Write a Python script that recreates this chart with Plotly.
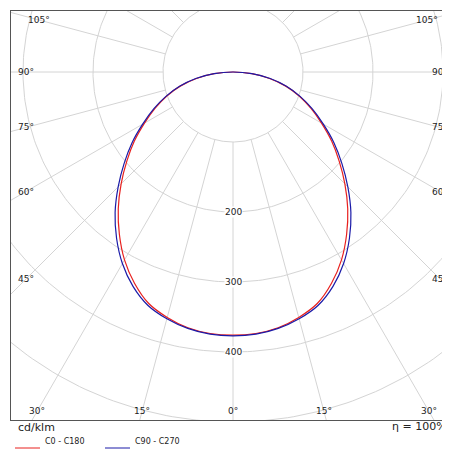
import numpy as np
import plotly.graph_objects as go

angles = [0, 5, 10, 15, 20, 25, 30, 35, 40, 45, 50, 55, 60, 65, 70, 75, 80, 85, 90]
c0_c180 = [376, 375, 371, 363, 352, 333, 310, 283, 255, 226, 198, 172, 146, 123, 101, 78, 53, 27, 0]
c90_c270 = [377, 376, 372, 365, 355, 338, 316, 290, 262, 232, 203, 176, 149, 125, 102, 79, 54, 27, 0]
ring_values = [100, 200, 300, 400, 500, 600, 700]
ring_labels = [200, 300, 400]
angle_labels = [0, 15, 30, 45, 60, 75, 90, 105]

W, H = 450, 450
L, R, T, B = 3, 3, 3, 38
cx_px, cy_px = 225, 64
scale = 0.7  # px per cd
xmin = -(cx_px - L) / scale
xmax = (W - R - cx_px) / scale
ymax = (cy_px - T) / scale
ymin = -(H - B - cy_px) / scale

fig = go.Figure()
grid = "#d4d4d4"
t = np.linspace(0, 2 * np.pi, 361)
for rv in ring_values:
    fig.add_trace(go.Scatter(x=rv * np.sin(t), y=rv * np.cos(t), mode="lines",
                             line=dict(color=grid, width=1), hoverinfo="skip", showlegend=False))
for a in range(0, 360, 15):
    th = np.radians(a)
    fig.add_trace(go.Scatter(x=[100 * np.sin(th), 1000 * np.sin(th)], y=[-100 * np.cos(th), -1000 * np.cos(th)],
                             mode="lines", line=dict(color=grid, width=1), hoverinfo="skip", showlegend=False))

def curve(vals):
    full_a = [-a for a in angles[::-1]] + angles[1:]
    full_v = vals[::-1] + vals[1:]
    th = np.radians(full_a)
    v = np.array(full_v)
    return v * np.sin(th), -v * np.cos(th)

for vals, col in [(c0_c180, "#e8201e"), (c90_c270, "#1a1aa8")]:
    x, y = curve(vals)
    fig.add_trace(go.Scatter(x=x, y=y, mode="lines", line=dict(color=col, width=1.2, shape="spline"),
                             hoverinfo="skip", showlegend=False))

font = "DejaVu Sans"
for rv in ring_labels:
    fig.add_annotation(x=0, y=-rv, text=str(rv), showarrow=False, bgcolor="white",
                       font=dict(family=font, size=9, color="#222"), borderpad=0)

inx = 15 / scale
iny = 9 / scale
for a in angle_labels:
    th = np.radians(a)
    dx, dy = np.sin(th), -np.cos(th)
    cands = []
    if abs(dx) > 1e-9:
        cands.append((xmax - inx) / dx)
    if dy < -1e-9:
        cands.append((ymin + iny) / dy)
    if dy > 1e-9:
        cands.append((ymax - iny) / dy)
    s = min(c for c in cands if c > 0)
    for sign in ([1] if a == 0 else [-1, 1]):
        fig.add_annotation(x=sign * s * dx, y=s * dy, text=f"{a}°", showarrow=False,
                           font=dict(family=font, size=9, color="#222"))

ph = H - T - B
pw = W - L - R
def px(xp): return (xp - L) / pw
def py(yp): return (H - B - yp) / ph

fig.add_annotation(xref="paper", yref="paper", x=px(8), y=py(428), text="cd/klm", showarrow=False,
                   xanchor="left", font=dict(family=font, size=11, color="#222"))
fig.add_annotation(xref="paper", yref="paper", x=px(441), y=py(427), text="η = 100%", showarrow=False,
                   xanchor="right", font=dict(family=font, size=11, color="#222"))
for x0, col, label in [(7, "#e8201e", "C0 - C180"), (97, "#1a1aa8", "C90 - C270")]:
    fig.add_shape(type="line", xref="paper", yref="paper", x0=px(x0), x1=px(x0 + 25), y0=py(440), y1=py(440),
                  line=dict(color=col, width=1))
    fig.add_annotation(xref="paper", yref="paper", x=px(x0 + 28), y=py(440), text=label, showarrow=False,
                       xanchor="left", font=dict(family=font, size=8, color="#222"))

ax = dict(showgrid=False, zeroline=False, showticklabels=False, ticks="",
          showline=True, mirror=True, linecolor="#555", linewidth=1, fixedrange=True)
fig.update_layout(width=W, height=H, margin=dict(l=L, r=R, t=T, b=B, autoexpand=False),
                  paper_bgcolor="white", plot_bgcolor="white",
                  xaxis=dict(ax, range=[xmin, xmax]), yaxis=dict(ax, range=[ymin, ymax]))
fig.write_html("out.html")
